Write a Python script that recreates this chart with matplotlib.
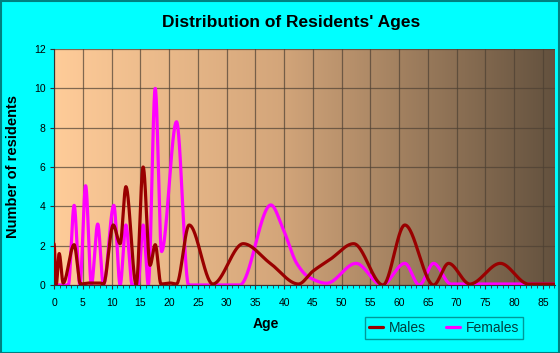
import numpy as np
import matplotlib
matplotlib.use("Agg")
import matplotlib.pyplot as plt
from matplotlib.colors import LinearSegmentedColormap
from matplotlib.patches import Rectangle

plt.rcParams['font.family'] = ['Liberation Sans', 'DejaVu Sans']

title = "Distribution of Residents' Ages"
xlabel = "Age"
ylabel = "Number of residents"
series_names = ["Males", "Females"]

male_ages = [0, 0.4, 0.9, 1.6, 3.5, 4.6, 6, 8, 8.6, 10.3, 11.5, 12.5, 14.3, 15.5, 16.7,
             17.6, 18.6, 20.2, 21.3, 23.5, 27.6, 32.9, 37.6, 42.5, 45, 48, 52.1, 57.2,
             61.0, 66.0, 68.6, 72.3, 77.6, 82.5, 87]
male_vals = [2.1, 0.05, 1.6, 0.1, 2.05, 0.05, 0.1, 0.1, 0.05, 3.05, 2.1, 5.0, 0.0, 6.0, 1.0,
             2.05, 0.05, 0.1, 0.05, 3.05, 0.05, 2.1, 1.1, 0.05, 0.7, 1.3, 2.1, 0.0,
             3.05, 0.0, 1.1, 0.05, 1.1, 0.05, 0.05]

female_ages = [0, 2.5, 3.5, 4.5, 5.5, 6.5, 7.6, 8.6, 10.4, 11.5, 12.5, 13.6, 14.6, 15.5, 16.4,
               17.6, 18.7, 21.3, 23.4, 32.3, 37.7, 39.9, 42.2, 44.2, 47.4, 52.5, 57.0, 61.0,
               63.5, 66.0, 69.0, 87]
female_vals = [0, 0, 4.05, 0, 5.05, 0, 3.1, 0, 4.05, 0, 3.05, 0, 0, 3.05, 0,
               10.0, 1.7, 8.3, 0, 0, 4.07, 2.8, 1.1, 0.42, 0.09, 1.1, 0, 1.1,
               0, 1.1, 0.05, 0.05]

xticks = list(range(0, 90, 5))
yticks = list(range(0, 13, 2))


def pchip(x, y, xs):
    x = np.asarray(x, float); y = np.asarray(y, float)
    h = np.diff(x); d = np.diff(y) / h
    n = len(x)
    m = np.zeros(n)
    for k in range(1, n - 1):
        if d[k - 1] * d[k] <= 0:
            m[k] = 0
        else:
            w1 = 2 * h[k] + h[k - 1]; w2 = h[k] + 2 * h[k - 1]
            m[k] = (w1 + w2) / (w1 / d[k - 1] + w2 / d[k])
    m[0] = 0; m[-1] = 0
    idx = np.clip(np.searchsorted(x, xs) - 1, 0, n - 2)
    t = (xs - x[idx]) / h[idx]
    h00 = 2 * t**3 - 3 * t**2 + 1; h10 = t**3 - 2 * t**2 + t
    h01 = -2 * t**3 + 3 * t**2; h11 = t**3 - t**2
    return h00 * y[idx] + h10 * h[idx] * m[idx] + h01 * y[idx + 1] + h11 * h[idx] * m[idx + 1]


fig = plt.figure(figsize=(5.6, 3.53), dpi=100, facecolor='#00FFFF')
ax = fig.add_axes([54 / 560, 1 - 285 / 353, (555 - 54) / 560, (285 - 49) / 353])
xmax = 87.1
ax.set_xlim(0, xmax)
ax.set_ylim(0, 12)

cmap = LinearSegmentedColormap.from_list('bg', [(0, (1.0, 0.8, 0.6)),
                                               (0.45, (0.83, 0.65, 0.48)),
                                               (1.0, (0.39, 0.32, 0.245))])
grad = np.linspace(0, 1, 256).reshape(1, -1)
ax.imshow(grad, cmap=cmap, extent=[0, xmax, 0, 12], aspect='auto', zorder=0)

ax.set_xticks(xticks)
ax.set_xticks(range(0, 88), minor=True)
ax.set_yticks(yticks)
ax.grid(True, which='major', color='#4d4033', alpha=0.7, lw=0.9, zorder=1)

xs_m = np.linspace(male_ages[0], male_ages[-1], 2000)
xs_f = np.linspace(female_ages[0], female_ages[-1], 2000)
ax.plot(xs_m, np.clip(pchip(male_ages, male_vals, xs_m), 0, None), color='#990000', lw=2.3,
        label=series_names[0], zorder=3, solid_capstyle='round')
ax.plot(xs_f, np.clip(pchip(female_ages, female_vals, xs_f), 0, None), color='#FF00FF', lw=2.3,
        label=series_names[1], zorder=2, solid_capstyle='round')

for s in ['top', 'right']:
    ax.spines[s].set_visible(False)
ax.spines['left'].set_color('#333333')
ax.spines['bottom'].set_color('#333333')
ax.tick_params(axis='both', which='major', labelsize=7.5, length=3, color='#333333', pad=3)
ax.tick_params(axis='x', which='minor', length=2, color='#333333')
ax.tick_params(axis='x', which='major', pad=6)

fig.text(0.52, 1 - 23 / 353, title, ha='center', va='center', fontsize=12.5, fontweight='bold')
fig.text(266 / 560, 1 - 324 / 353, xlabel, ha='center', va='center', fontsize=10, fontweight='bold')
fig.text(13 / 560, 1 - 167 / 353, ylabel, ha='center', va='center', fontsize=10.5,
         fontweight='bold', rotation=90)

leg = fig.legend(loc='center', bbox_to_anchor=(444 / 560, 1 - 328 / 353), ncol=2, fontsize=10,
                 frameon=True, fancybox=False, facecolor='#00FFFF', edgecolor='#008080',
                 handlelength=1.0, handletextpad=0.4, columnspacing=1.5, borderpad=0.3)
leg.get_frame().set_linewidth(1.0)
for t in leg.get_texts():
    t.set_color('#004040')

fig.patches.append(Rectangle((0.001, 0.001), 0.997, 0.996, transform=fig.transFigure,
                             fill=False, edgecolor='#008080', lw=1.5))

fig.savefig('out.png', dpi=100, facecolor=fig.get_facecolor())
